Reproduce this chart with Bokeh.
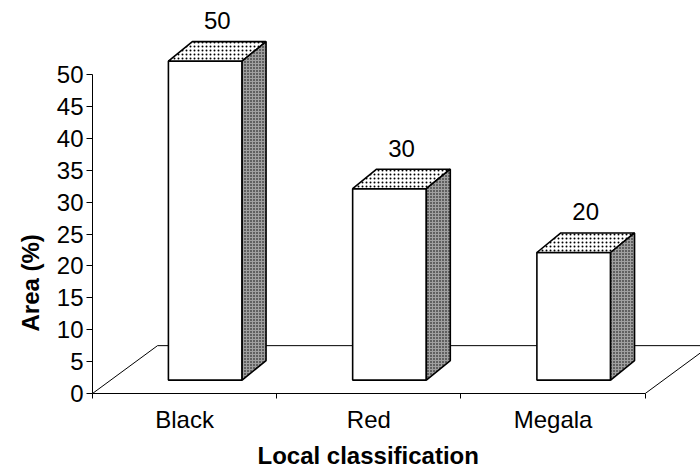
from bokeh.plotting import figure
from bokeh.models import Range1d, FixedTicker, ColumnDataSource, Title
from bokeh.embed import file_html
from bokeh.resources import INLINE
from bokeh.core.properties import value

# ---- data -----------------------------------------------------------------
categories = ["Black", "Red", "Megala"]
area_pct = [50, 30, 20]
y_ticks = [0, 5, 10, 15, 20, 25, 30, 35, 40, 45, 50]

# ---- pseudo-3D projection (data units) ------------------------------------
FLOOR_DX, FLOOR_DY = 0.353, 7.5   # full depth of the floor
FRONT_DX, FRONT_DY = 0.112, 2.1   # depth at which bar fronts stand
BAR_DX, BAR_DY = 0.130, 3.06      # depth of each bar
BAR_W = 0.40
LABEL_GAP = 3.3

FONT = "Liberation Sans"
n = len(categories)

p = figure(width=700, height=473, output_backend="svg", toolbar_location=None,
           x_range=Range1d(0, 3.30), y_range=Range1d(0, 61.6),
           min_border_left=92, min_border_bottom=80,
           min_border_top=0, min_border_right=0)
p.outline_line_color = None
p.xgrid.visible = False
p.ygrid.visible = False
p.background_fill_color = "white"
p.border_fill_color = "white"

# floor outline (front edge is the x axis itself)
p.multi_line(xs=[[0, FLOOR_DX], [FLOOR_DX, n + FLOOR_DX], [n, n + FLOOR_DX]],
             ys=[[0, FLOOR_DY], [FLOOR_DY, FLOOR_DY], [0, FLOOR_DY]],
             line_color="black", line_width=1)

# bar faces
front_xs, front_ys, top_xs, top_ys, side_xs, side_ys = [], [], [], [], [], []
lab_x, lab_y = [], []
for i, v in enumerate(area_pct):
    xl = i + 0.5 + FRONT_DX - BAR_W / 2
    xr = xl + BAR_W
    y0 = FRONT_DY
    y1 = FRONT_DY + v
    front_xs.append([xl, xr, xr, xl])
    front_ys.append([y0, y0, y1, y1])
    top_xs.append([xl, xr, xr + BAR_DX, xl + BAR_DX])
    top_ys.append([y1, y1, y1 + BAR_DY, y1 + BAR_DY])
    side_xs.append([xr, xr + BAR_DX, xr + BAR_DX, xr])
    side_ys.append([y0, y0 + BAR_DY, y1 + BAR_DY, y1])
    lab_x.append((xl + xr) / 2 + BAR_DX / 2)
    lab_y.append(y1 + BAR_DY + LABEL_GAP)

p.patches(front_xs, front_ys, fill_color="white", line_color="black", line_width=1.6)
p.patches(top_xs, top_ys, fill_color="white", hatch_pattern="dot", hatch_scale=4,
          hatch_weight=1.3, hatch_color="black", line_color="black", line_width=1.6)
p.patches(side_xs, side_ys, fill_color="#a0a0a0", hatch_pattern="dot", hatch_scale=3,
          hatch_weight=1.5, hatch_color="black", line_color="black", line_width=1.6)

src = ColumnDataSource(dict(x=lab_x, y=lab_y, t=[str(v) for v in area_pct]))
p.text(x="x", y="y", text="t", source=src, text_align="center",
       text_baseline="alphabetic", text_font=value(FONT), text_font_size="24px",
       text_color="black")

# y axis
ya = p.yaxis[0]
ya.ticker = FixedTicker(ticks=y_ticks)
ya.bounds = (0, 50)
ya.major_tick_out = 6
ya.major_tick_in = 0
ya.minor_tick_out = 0
ya.minor_tick_in = 0
ya.major_label_standoff = 3
ya.major_label_text_font = FONT
ya.major_label_text_font_size = "24px"
ya.major_label_text_color = "black"
ya.axis_line_color = "black"
ya.major_tick_line_color = "black"

# x axis: labels at category centres, tick marks at category boundaries
xa = p.xaxis[0]
xa.ticker = FixedTicker(ticks=[i + 0.5 for i in range(n)], minor_ticks=list(range(n + 1)))
xa.major_label_overrides = {i + 0.5: c for i, c in enumerate(categories)}
xa.bounds = (0, n)
xa.major_tick_out = 0
xa.major_tick_in = 0
xa.minor_tick_out = 5
xa.minor_tick_in = 0
xa.major_label_standoff = 7
xa.major_label_text_font = FONT
xa.major_label_text_font_size = "24px"
xa.major_label_text_color = "black"
xa.axis_line_color = "black"
xa.minor_tick_line_color = "black"

# axis titles, placed as side titles so they can sit off-centre
title_style = dict(text_font=FONT, text_font_size="24px", text_font_style="bold",
                   text_color="black")
p.add_layout(Title(text="Area (%)", align="left", offset=62, standoff=20,
                   **title_style), "left")
p.add_layout(Title(text="Local classification", align="left", offset=165, standoff=8,
                   **title_style), "below")

open("out.html", "w").write(file_html(p, INLINE))
